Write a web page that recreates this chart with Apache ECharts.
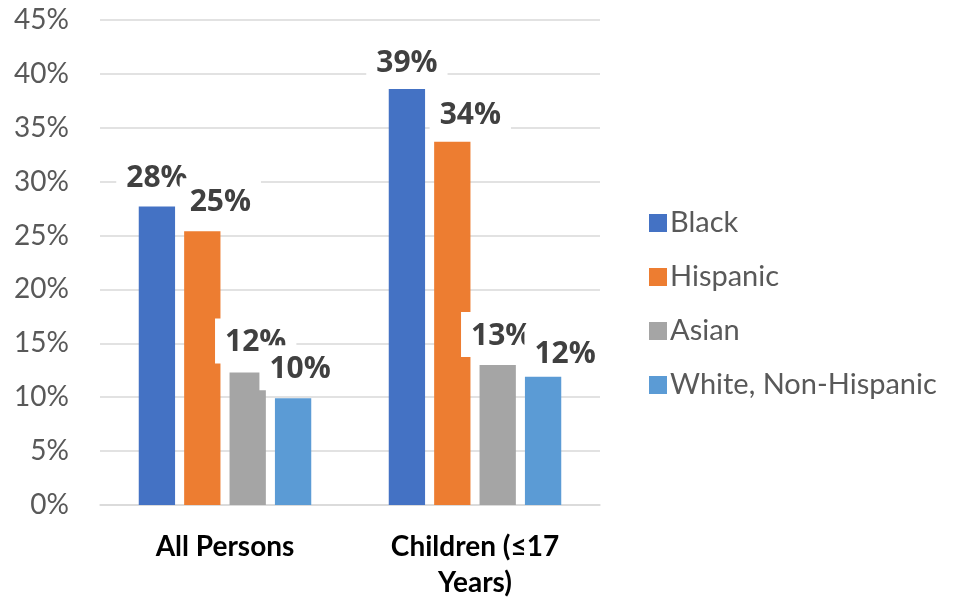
<!DOCTYPE html>
<html><head><meta charset="utf-8">
<script src="https://cdn.jsdelivr.net/npm/echarts@6/dist/echarts.min.js"></script>
<style>html,body{margin:0;padding:0;background:#fff}#c{width:953px;height:601px}</style>
</head><body><div id="c"></div>
<script>
const categories = ['All Persons', 'Children (≤17\nYears)'];
const seriesNames = ['Black', 'Hispanic', 'Asian', 'White, Non-Hispanic'];
const black = [27.7, 38.6];
const hispanic = [25.4, 33.7];
const asian = [12.3, 13.0];
const white = [9.9, 11.9];
const colors = ['#4472C4', '#ED7D31', '#A5A5A5', '#5B9BD5'];

const values = [black, hispanic, asian, white];
// label nudges (style, per series per category) to mimic the hand-placed labels
const labelNudge = [
  [[0, 1], [0, 4]],
  [[18, 1], [18, 3]],
  [[8, 0], [4, 1]],
  [[7, 1], [22, 7]]
];
const chart = echarts.init(document.getElementById('c'));
chart.setOption({
  animation: false,
  color: colors,
  grid: { left: 100, right: 353, top: 20, bottom: 95, containLabel: false },
  legend: {
    orient: 'vertical', left: 644, top: 203,
    itemWidth: 18, itemHeight: 18, itemGap: 24,
    icon: 'rect',
    textStyle: { fontFamily: 'Lato', fontSize: 29, color: '#595959', lineHeight: 30, padding: [0,0,0,-2] },
    data: seriesNames
  },
  xAxis: {
    type: 'category', data: categories,
    axisLine: { lineStyle: { color: '#D9D9D9', width: 1.5 } },
    axisTick: { show: false },
    axisLabel: { fontFamily: 'Lato', fontWeight: 'bold', fontSize: 28, color: '#000', lineHeight: 36, margin: 24 }
  },
  yAxis: {
    type: 'value', min: 0, max: 45, interval: 5,
    axisLine: { show: false }, axisTick: { show: false },
    splitLine: { lineStyle: { color: '#D9D9D9', width: 1.5 } },
    axisLabel: { formatter: '{value}%', fontFamily: 'Lato', fontSize: 28, color: '#595959', margin: 31 }
  },
  series: seriesNames.map((n, i) => ({
    name: n, type: 'bar',
    data: values[i].map((v, j) => ({ value: v, label: { offset: labelNudge[i][j] } })),
    barGap: '25%', barCategoryGap: '31%',
    label: {
      show: true, position: 'top', distance: 9,
      formatter: p => Math.round(p.value) + '%',
      fontFamily: 'Open Sans', fontWeight: 'bold', fontSize: 30, color: '#404040',
      backgroundColor: '#fff', padding: [10, 10, 6, 10], lineHeight: 29
    }
  }))
});
</script></body></html>
